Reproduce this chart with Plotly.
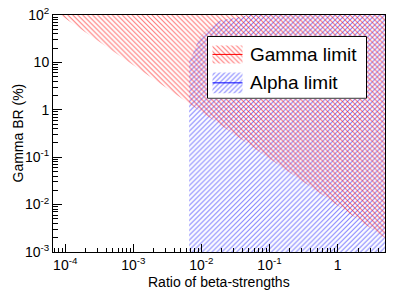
import plotly.graph_objects as go

# ---- data ----
gamma_ratio = [8.45e-5, 4.98]
gamma_br = [100.0, 0.00197]

alpha_ratio = [0.0066, 0.0066, 0.0075, 0.0094, 0.0132, 0.0186, 0.033, 0.046, 0.05]
alpha_br = [0.001, 11.0, 15.5, 33.6, 54.6, 76.6, 88.5, 97.7, 100.0]

x_tickvals = [1e-4, 1e-3, 1e-2, 1e-1, 1]
x_ticktext = ["10<sup>-4</sup>", "10<sup>-3</sup>", "10<sup>-2</sup>", "10<sup>-1</sup>", "1"]
y_tickvals = [1e-3, 1e-2, 1e-1, 1, 10, 100]
y_ticktext = ["10<sup>-3</sup>", "10<sup>-2</sup>", "10<sup>-1</sup>", "1", "10", "10<sup>2</sup>"]

legend_labels = ["Gamma limit", "Alpha limit"]
x_title = "Ratio of beta-strengths"
y_title = "Gamma BR (%)"

# ---- layout constants ----
X_RANGE = [-4.18, 0.697]
Y_RANGE = [-3.0005, 2.0005]
XMAX = 10 ** X_RANGE[1]

W, H = 415, 299
L, R, T, B = 53, 30, 14.5, 47
PW, PH = W - L - R, H - T - B
PX0, PY1 = L, H - B  # pixel left and bottom of the plot area

RED = "#ff0000"
BLUE = "#0000ff"
FONT = "Liberation Sans, Arial, sans-serif"

red_pat = dict(shape="\\", fgcolor=RED, fgopacity=0.55, bgcolor="rgba(0,0,0,0)", size=3.5, solidity=0.3)
blue_pat = dict(shape="/", fgcolor=BLUE, fgopacity=0.5, bgcolor="rgba(0,0,0,0)", size=3.5, solidity=0.3)

fig = go.Figure()

# Alpha limit region (right of the alpha curve)
ax = alpha_ratio + [XMAX * 1.2, XMAX * 1.2, alpha_ratio[0]]
ay = alpha_br + [alpha_br[-1], alpha_br[0] * 0.5, alpha_br[0] * 0.5]
fig.add_trace(go.Scatter(x=ax, y=ay, mode="lines", fill="toself", line=dict(width=0),
                         fillcolor="rgba(0,0,0,0)", fillpattern=blue_pat,
                         hoverinfo="skip", showlegend=False))

# Gamma limit region (above the gamma line)
gx = gamma_ratio + [gamma_ratio[-1], gamma_ratio[0]]
gy = gamma_br + [gamma_br[0] * 1.5, gamma_br[0] * 1.5]
fig.add_trace(go.Scatter(x=gx, y=gy, mode="lines", fill="toself", line=dict(width=0),
                         fillcolor="rgba(0,0,0,0)", fillpattern=red_pat,
                         hoverinfo="skip", showlegend=False))

# ---- manual legend drawn in an overlay subplot (units = pixels) ----
LW, LH = 159, 62
fig.add_trace(go.Scatter(x=[0, LW, LW, 0, 0], y=[0, 0, LH, LH, 0], mode="lines", fill="toself",
                         fillcolor="white", line=dict(color="black", width=1),
                         xaxis="x2", yaxis="y2", hoverinfo="skip", showlegend=False))
swatches = [(35, 53, red_pat, RED), (5, 26, blue_pat, BLUE)]
for (y0, y1, pat, col), lab in zip(swatches, legend_labels):
    fig.add_trace(go.Scatter(x=[5, 35, 35, 5, 5], y=[y0, y0, y1, y1, y0], mode="lines", fill="toself",
                             fillcolor="rgba(0,0,0,0)", fillpattern=pat, line=dict(width=0),
                             xaxis="x2", yaxis="y2", hoverinfo="skip", showlegend=False))
    ym = (y0 + y1) / 2
    fig.add_trace(go.Scatter(x=[5, 35], y=[ym, ym], mode="lines", line=dict(color=col, width=1),
                             xaxis="x2", yaxis="y2", hoverinfo="skip", showlegend=False))
    fig.add_annotation(x=40, y=ym, xref="x2", yref="y2", text=lab, showarrow=False,
                       xanchor="left", yanchor="middle", font=dict(size=19, color="black", family=FONT))

# axis titles
fig.add_annotation(x=0.5, y=(PY1 - 282) / PH, xref="paper", yref="paper",
                   text=x_title, showarrow=False, xanchor="center", yanchor="middle",
                   font=dict(size=14, color="black", family=FONT))
fig.add_annotation(x=(17 - PX0) / PW, y=0.5, xref="paper", yref="paper", text=y_title, textangle=-90,
                   showarrow=False, xanchor="center", yanchor="middle",
                   font=dict(size=14, color="black", family=FONT))

minor_x = [m * 10 ** e for e in range(-5, 1) for m in range(2, 10)]
minor_y = [m * 10 ** e for e in range(-3, 2) for m in range(2, 10)]

fig.update_layout(
    width=W, height=H,
    margin=dict(l=L, r=R, t=T, b=B),
    paper_bgcolor="white", plot_bgcolor="white",
    font=dict(family=FONT, size=14, color="black"),
    xaxis=dict(type="log", range=X_RANGE, showgrid=False, zeroline=False, automargin=False,
               showline=True, linecolor="black", linewidth=1, mirror=True,
               ticks="inside", ticklen=8, tickcolor="black",
               tickvals=x_tickvals, ticktext=x_ticktext,
               tickfont=dict(size=14),
               minor=dict(ticks="inside", ticklen=4, tickcolor="black", tickvals=minor_x, showgrid=False)),
    yaxis=dict(type="log", range=Y_RANGE, showgrid=False, zeroline=False, automargin=False,
               showline=True, linecolor="black", linewidth=1, mirror=True,
               ticks="inside", ticklen=9, tickcolor="black",
               tickvals=y_tickvals, ticktext=y_ticktext,
               tickfont=dict(size=14), ticklabeloverflow="allow",
               minor=dict(ticks="inside", ticklen=5, tickcolor="black", tickvals=minor_y, showgrid=False)),
    xaxis2=dict(domain=[(207 - PX0) / PW, (367 - PX0) / PW], range=[-0.5, LW + 0.5], visible=False,
                anchor="y2", fixedrange=True, automargin=False),
    yaxis2=dict(domain=[(PY1 - 98.5) / PH, (PY1 - 35.5) / PH], range=[-0.5, LH + 0.5], visible=False,
                anchor="x2", fixedrange=True, automargin=False),
    showlegend=False,
)

# remove the default 8px page margin so the figure fills the window exactly
fig.write_html("out.html", config={"displayModeBar": False, "staticPlot": True},
               post_script="document.body.style.margin='0';document.body.style.overflow='hidden';")
